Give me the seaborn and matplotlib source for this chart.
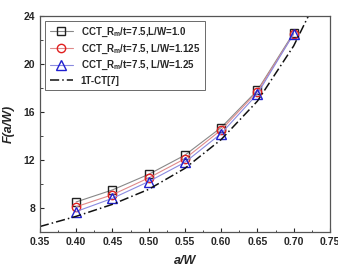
import matplotlib
matplotlib.use("Agg")
import matplotlib.pyplot as plt
import seaborn as sns
import pandas as pd
from matplotlib.ticker import MultipleLocator

aw = [0.40, 0.45, 0.50, 0.55, 0.60, 0.65, 0.70]
f_lw100 = [8.5, 9.5, 10.8, 12.4, 14.7, 17.8, 22.6]
f_lw1125 = [8.1, 9.1, 10.5, 12.1, 14.5, 17.7, 22.5]
f_lw125 = [7.7, 8.8, 10.2, 11.8, 14.2, 17.5, 22.5]
ref_aw = [0.35, 0.40, 0.45, 0.50, 0.55, 0.60, 0.65, 0.70, 0.722]
ref_f = [6.45, 7.3, 8.3, 9.55, 11.3, 13.7, 16.9, 21.5, 24.2]

labels = ["CCT_R$_m$/t=7.5,L/W=1.0", "CCT_R$_m$/t=7.5, L/W=1.125",
          "CCT_R$_m$/t=7.5, L/W=1.25", "1T-CT[7]"]

sns.set_style("white")
plt.rcParams['font.family'] = ['Liberation Sans', 'DejaVu Sans']
plt.rcParams['mathtext.fontset'] = 'custom'
plt.rcParams['mathtext.rm'] = 'Liberation Sans:bold'
plt.rcParams['mathtext.it'] = 'Liberation Sans:bold'

fig = plt.figure(figsize=(3.38, 2.66), dpi=100)
ax = fig.add_axes([0.118, 0.128, 0.858, 0.812])

df = pd.DataFrame({"aw": aw, "a": f_lw100, "b": f_lw1125, "c": f_lw125})
rdf = pd.DataFrame({"aw": ref_aw, "f": ref_f})

sns.lineplot(data=df, x="aw", y="a", ax=ax, color="#888888", lw=0.8,
             marker="s", ms=6, mfc="none", mec="#222222", mew=1.0, label=labels[0])
sns.lineplot(data=df, x="aw", y="b", ax=ax, color="#e08a8a", lw=0.8,
             marker="o", ms=6, mfc="none", mec="#e02020", mew=1.0, label=labels[1])
sns.lineplot(data=df, x="aw", y="c", ax=ax, color="#8a8ae0", lw=0.8,
             marker="^", ms=7, mfc="none", mec="#2020d0", mew=1.0, label=labels[2])
sns.lineplot(data=rdf, x="aw", y="f", ax=ax, color="#111111", lw=1.1,
             linestyle=(0, (6, 2, 1, 2)), label=labels[3])

ax.set_xlim(0.35, 0.75)
ax.set_ylim(6, 24)
ax.xaxis.set_major_locator(MultipleLocator(0.05))
ax.xaxis.set_minor_locator(MultipleLocator(0.025))
ax.yaxis.set_major_locator(MultipleLocator(4))
ax.yaxis.set_minor_locator(MultipleLocator(2))
ax.set_xticks([0.35, 0.40, 0.45, 0.50, 0.55, 0.60, 0.65, 0.70, 0.75])
ax.set_xticklabels(["0.35", "0.40", "0.45", "0.50", "0.55", "0.60", "0.65", "0.70", "0.75"])
ax.tick_params(which="both", direction="in", bottom=True, left=True, top=False, right=False,
               labelsize=7.5)
ax.tick_params(which="major", length=3, width=0.8)
ax.tick_params(which="minor", length=1.8, width=0.6)
for lab in ax.get_xticklabels() + ax.get_yticklabels():
    lab.set_fontweight("bold")
for s in ax.spines.values():
    s.set_color("#555555")
    s.set_linewidth(0.9)

ax.set_xlabel("a/W", fontsize=9, fontweight="bold", style="italic", labelpad=6)
ax.set_ylabel("F(a/W)", fontsize=9, fontweight="bold", style="italic", labelpad=6)

leg = ax.legend(loc="upper left", fontsize=7, frameon=True, fancybox=False,
                edgecolor="#444444", handlelength=2.4, borderpad=0.5,
                labelspacing=0.35, prop={"weight": "bold", "size": 7})
leg.get_frame().set_linewidth(0.7)

fig.savefig("out.png", dpi=100)
